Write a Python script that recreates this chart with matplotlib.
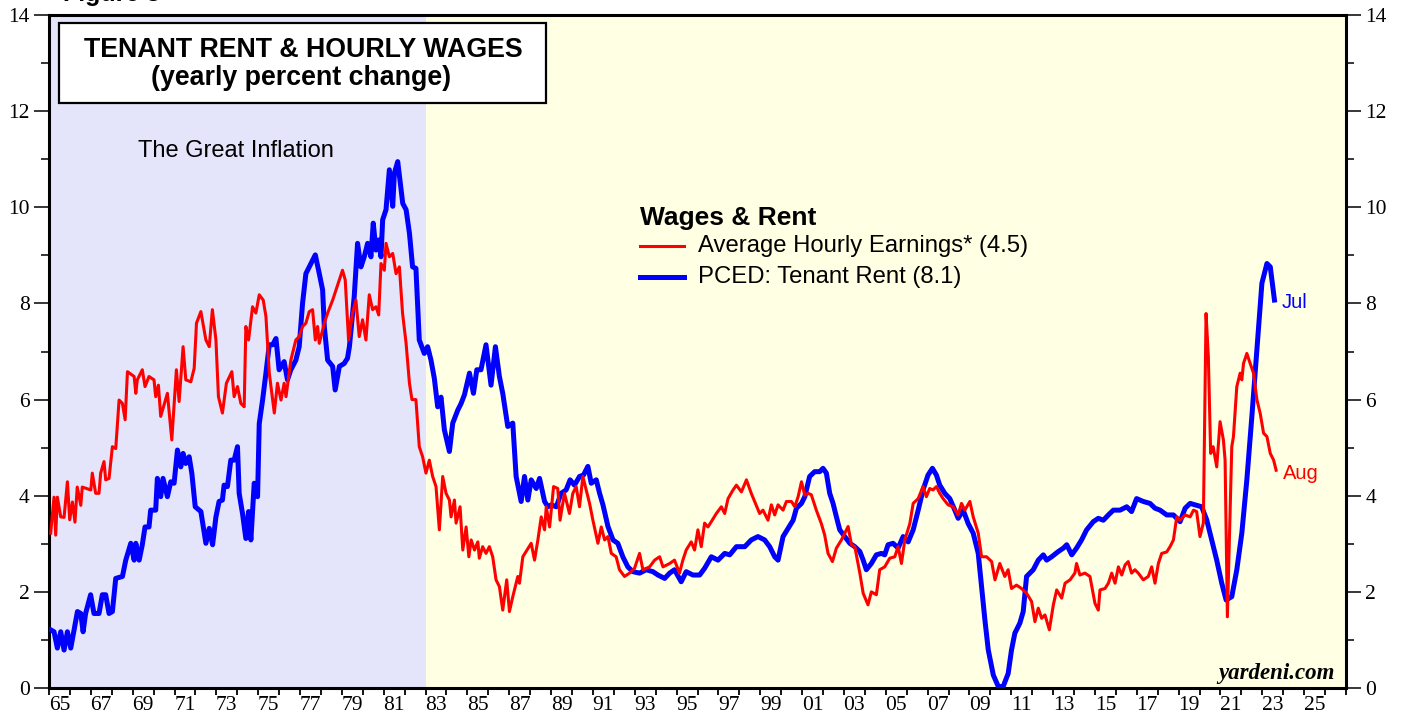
import matplotlib
matplotlib.use("Agg")
import matplotlib.pyplot as plt
from matplotlib.lines import Line2D
from matplotlib.patches import Rectangle
from matplotlib.ticker import FixedLocator, FixedFormatter, MultipleLocator

# Average hourly earnings, yearly % change (red)
wage_years = [
    1965.08, 1965.24, 1965.32, 1965.40, 1965.56, 1965.72, 1965.88, 1965.99, 1966.12, 1966.24,
    1966.35, 1966.52, 1966.59, 1967.00, 1967.07, 1967.23, 1967.39, 1967.47, 1967.63, 1967.71,
    1967.87, 1968.03, 1968.19, 1968.35, 1968.51, 1968.64, 1968.75, 1969.07, 1969.15, 1969.22,
    1969.46, 1969.59, 1969.78, 1970.02, 1970.10, 1970.23, 1970.34, 1970.50, 1970.66, 1970.87,
    1971.09, 1971.22, 1971.41, 1971.54, 1971.78, 1971.94, 1972.05, 1972.26, 1972.50, 1972.66,
    1972.81, 1972.98, 1973.10, 1973.29, 1973.48, 1973.74, 1973.85, 1974.01, 1974.17, 1974.33,
    1974.41, 1974.54, 1974.73, 1974.89, 1975.05, 1975.24, 1975.37, 1975.53, 1975.77, 1975.92,
    1976.09, 1976.24, 1976.33, 1976.56, 1976.80, 1976.96, 1977.12, 1977.28, 1977.44, 1977.60,
    1977.73, 1977.84, 1977.92, 1978.16, 1978.32, 1978.56, 1978.72, 1978.88, 1979.03, 1979.16,
    1979.32, 1979.51, 1979.67, 1979.83, 1979.99, 1980.15, 1980.31, 1980.47, 1980.63, 1980.76,
    1980.87, 1981.03, 1981.11, 1981.27, 1981.43, 1981.59, 1981.75, 1981.90, 1982.07, 1982.23,
    1982.35, 1982.54, 1982.70, 1982.86, 1983.02, 1983.18, 1983.34, 1983.50, 1983.66, 1983.82,
    1983.98, 1984.14, 1984.22, 1984.38, 1984.46, 1984.65, 1984.78, 1984.94, 1985.07, 1985.18,
    1985.34, 1985.50, 1985.57, 1985.73, 1985.89, 1986.05, 1986.21, 1986.37, 1986.53, 1986.69,
    1986.88, 1987.01, 1987.17, 1987.41, 1987.49, 1987.65, 1987.89, 1988.05, 1988.21, 1988.37,
    1988.53, 1988.69, 1988.77, 1988.93, 1989.12, 1989.32, 1989.43, 1989.64, 1989.88, 1990.04,
    1990.20, 1990.36, 1990.52, 1990.68, 1990.84, 1991.00, 1991.24, 1991.40, 1991.56, 1991.72,
    1991.88, 1992.11, 1992.27, 1992.51, 1992.75, 1992.99, 1993.23, 1993.39, 1993.71, 1993.95,
    1994.19, 1994.35, 1994.67, 1994.90, 1995.14, 1995.30, 1995.46, 1995.70, 1995.86, 1996.02,
    1996.18, 1996.34, 1996.50, 1996.66, 1996.90, 1997.14, 1997.30, 1997.46, 1997.70, 1997.86,
    1998.10, 1998.34, 1998.57, 1998.73, 1998.97, 1999.13, 1999.37, 1999.53, 1999.69, 1999.85,
    2000.09, 2000.25, 2000.49, 2000.65, 2000.81, 2000.97, 2001.13, 2001.29, 2001.44, 2001.68,
    2001.92, 2002.08, 2002.24, 2002.45, 2002.64, 2002.88, 2003.04, 2003.20, 2003.36, 2003.52,
    2003.76, 2003.92, 2004.15, 2004.31, 2004.55, 2004.71, 2004.95, 2005.19, 2005.43, 2005.59,
    2005.75, 2005.91, 2006.15, 2006.31, 2006.55, 2006.78, 2006.94, 2007.10, 2007.26, 2007.42,
    2007.58, 2007.74, 2007.98, 2008.22, 2008.46, 2008.62, 2008.78, 2009.02, 2009.18, 2009.42,
    2009.58, 2009.82, 2010.06, 2010.22, 2010.45, 2010.69, 2010.85, 2011.01, 2011.25, 2011.49,
    2011.73, 2011.97, 2012.13, 2012.29, 2012.45, 2012.61, 2012.82, 2013.01, 2013.17, 2013.41,
    2013.57, 2013.81, 2014.04, 2014.12, 2014.28, 2014.52, 2014.76, 2015.00, 2015.16, 2015.24,
    2015.48, 2015.64, 2015.80, 2015.96, 2016.12, 2016.28, 2016.44, 2016.59, 2016.75, 2016.91,
    2017.07, 2017.31, 2017.55, 2017.71, 2017.87, 2018.03, 2018.19, 2018.43, 2018.59, 2018.75,
    2018.91, 2019.07, 2019.31, 2019.55, 2019.71, 2019.86, 2020.02, 2020.18, 2020.31, 2020.42,
    2020.53, 2020.65, 2020.82, 2020.98, 2021.14, 2021.22, 2021.33, 2021.54, 2021.62, 2021.78,
    2021.94, 2022.02, 2022.10, 2022.26, 2022.42, 2022.58, 2022.74, 2022.90, 2023.06, 2023.22,
    2023.38, 2023.54, 2023.66,
]
wage_vals = [
    3.22, 3.97, 3.18, 3.97, 3.56, 3.55, 4.29, 3.50, 3.87, 3.45,
    4.18, 3.80, 4.18, 4.12, 4.47, 4.05, 4.05, 4.47, 4.71, 4.33,
    4.36, 5.02, 4.98, 5.99, 5.92, 5.58, 6.58, 6.48, 6.13, 6.41,
    6.62, 6.27, 6.48, 6.41, 6.06, 6.30, 5.65, 5.89, 6.13, 5.16,
    6.62, 5.96, 7.10, 6.41, 6.37, 6.65, 7.59, 7.83, 7.24, 7.10,
    7.87, 7.24, 6.06, 5.72, 6.34, 6.58, 6.06, 6.27, 5.92, 5.85,
    7.52, 7.24, 7.93, 7.80, 8.18, 8.07, 7.73, 6.55, 5.72, 6.34,
    5.99, 6.34, 6.06, 6.82, 7.24, 7.31, 7.52, 7.59, 7.83, 7.87,
    7.24, 7.52, 7.17, 7.59, 7.80, 8.07, 8.28, 8.49, 8.69, 8.49,
    7.24, 7.80, 8.07, 7.31, 7.66, 7.24, 8.18, 7.87, 7.93, 7.76,
    8.83, 8.69, 9.25, 8.97, 9.04, 8.62, 8.76, 7.80, 7.17, 6.34,
    6.00, 6.00, 5.02, 4.81, 4.47, 4.74, 4.40, 4.19, 3.29, 4.40,
    4.05, 3.91, 3.56, 3.91, 3.43, 3.77, 2.87, 3.35, 2.73, 3.08,
    2.87, 3.04, 2.70, 2.94, 2.80, 2.94, 2.73, 2.25, 2.11, 1.62,
    2.25, 1.59, 1.90, 2.32, 2.18, 2.73, 2.90, 3.01, 2.66, 3.08,
    3.56, 3.29, 3.77, 3.35, 4.19, 4.15, 3.49, 4.05, 3.63, 4.05,
    4.19, 3.77, 4.40, 4.12, 3.84, 3.49, 3.01, 3.35, 3.08, 3.15,
    2.80, 2.73, 2.46, 2.32, 2.39, 2.49, 2.80, 2.46, 2.52, 2.66,
    2.73, 2.52, 2.59, 2.66, 2.39, 2.66, 2.87, 3.04, 2.87, 3.29,
    2.94, 3.43, 3.35, 3.46, 3.63, 3.77, 3.63, 3.94, 4.12, 4.22,
    4.08, 4.33, 4.05, 3.88, 3.63, 3.70, 3.49, 3.81, 3.60, 3.81,
    3.70, 3.88, 3.88, 3.77, 3.98, 4.29, 4.01, 4.05, 4.02, 3.70,
    3.42, 3.18, 2.80, 2.63, 2.91, 3.08, 3.22, 3.36, 2.98, 2.94,
    2.39, 1.97, 1.73, 2.00, 1.94, 2.46, 2.52, 2.70, 2.73, 2.94,
    2.59, 3.08, 3.42, 3.84, 3.94, 4.19, 3.98, 4.15, 4.12, 4.19,
    4.05, 3.94, 3.81, 3.77, 3.60, 3.84, 3.70, 3.88, 3.56, 3.22,
    2.73, 2.73, 2.63, 2.25, 2.59, 2.32, 2.46, 2.07, 2.14, 2.07,
    1.97, 1.80, 1.38, 1.66, 1.45, 1.52, 1.21, 1.73, 2.04, 1.87,
    2.18, 2.25, 2.39, 2.59, 2.35, 2.39, 2.32, 1.76, 1.62, 2.04,
    2.07, 2.18, 2.39, 2.18, 2.52, 2.35, 2.56, 2.63, 2.39, 2.46,
    2.39, 2.25, 2.32, 2.52, 2.18, 2.59, 2.80, 2.83, 2.94, 3.08,
    3.56, 3.49, 3.60, 3.56, 3.70, 3.67, 3.15, 3.43, 7.79, 6.89,
    4.88, 5.02, 4.60, 5.54, 5.16, 4.74, 1.48, 5.02, 5.23, 6.27,
    6.55, 6.41, 6.75, 6.96, 6.75, 6.55, 6.00, 5.71, 5.30, 5.23,
    4.88, 4.74, 4.53,
]

# PCED: tenant rent, yearly % change (blue)
rent_years = [
    1965.08, 1965.24, 1965.40, 1965.56, 1965.72, 1965.88, 1966.04, 1966.20, 1966.36, 1966.52,
    1966.63, 1966.75, 1966.99, 1967.15, 1967.39, 1967.55, 1967.71, 1967.87, 1968.03, 1968.19,
    1968.51, 1968.67, 1968.91, 1969.07, 1969.15, 1969.31, 1969.46, 1969.59, 1969.78, 1969.86,
    1970.10, 1970.18, 1970.34, 1970.45, 1970.66, 1970.82, 1970.98, 1971.14, 1971.30, 1971.41,
    1971.54, 1971.70, 1971.83, 1971.99, 1972.26, 1972.50, 1972.66, 1972.82, 1972.98, 1973.13,
    1973.29, 1973.37, 1973.53, 1973.69, 1973.85, 1974.01, 1974.09, 1974.25, 1974.41, 1974.54,
    1974.65, 1974.81, 1974.97, 1975.05, 1975.21, 1975.37, 1975.53, 1975.69, 1975.85, 1976.00,
    1976.24, 1976.40, 1976.56, 1976.80, 1976.96, 1977.12, 1977.28, 1977.52, 1977.73, 1977.92,
    1978.08, 1978.16, 1978.32, 1978.56, 1978.68, 1978.88, 1979.11, 1979.27, 1979.36, 1979.59,
    1979.75, 1979.91, 1980.07, 1980.23, 1980.39, 1980.50, 1980.63, 1980.76, 1980.87, 1980.95,
    1981.11, 1981.27, 1981.43, 1981.51, 1981.67, 1981.83, 1981.91, 1982.07, 1982.23, 1982.38,
    1982.54, 1982.70, 1982.94, 1983.10, 1983.26, 1983.42, 1983.58, 1983.74, 1983.90, 1984.14,
    1984.30, 1984.54, 1984.70, 1984.86, 1985.10, 1985.29, 1985.45, 1985.65, 1985.89, 1986.13,
    1986.34, 1986.53, 1986.69, 1986.93, 1987.17, 1987.33, 1987.57, 1987.73, 1987.89, 1988.05,
    1988.29, 1988.45, 1988.69, 1988.85, 1989.01, 1989.25, 1989.48, 1989.72, 1989.91, 1990.12,
    1990.36, 1990.55, 1990.76, 1990.92, 1991.16, 1991.32, 1991.48, 1991.72, 1991.96, 1992.19,
    1992.43, 1992.67, 1992.91, 1993.23, 1993.55, 1993.87, 1994.11, 1994.43, 1994.67, 1994.90,
    1995.22, 1995.46, 1995.78, 1996.10, 1996.34, 1996.66, 1996.98, 1997.30, 1997.54, 1997.86,
    1998.26, 1998.57, 1998.89, 1999.21, 1999.45, 1999.69, 1999.85, 2000.09, 2000.33, 2000.57,
    2000.73, 2000.97, 2001.13, 2001.36, 2001.60, 2001.84, 2002.00, 2002.16, 2002.32, 2002.48,
    2002.64, 2002.80, 2003.04, 2003.28, 2003.52, 2003.76, 2003.92, 2004.07, 2004.31, 2004.55,
    2004.79, 2004.95, 2005.11, 2005.35, 2005.59, 2005.83, 2006.07, 2006.31, 2006.55, 2006.78,
    2007.02, 2007.23, 2007.42, 2007.58, 2007.82, 2008.06, 2008.30, 2008.46, 2008.70, 2008.94,
    2009.18, 2009.42, 2009.58, 2009.74, 2009.90, 2010.14, 2010.38, 2010.61, 2010.85, 2011.01,
    2011.17, 2011.41, 2011.57, 2011.73, 2012.05, 2012.29, 2012.53, 2012.69, 2012.93, 2013.25,
    2013.49, 2013.65, 2013.89, 2014.12, 2014.36, 2014.60, 2014.92, 2015.16, 2015.40, 2015.64,
    2015.88, 2016.20, 2016.52, 2016.75, 2016.99, 2017.31, 2017.63, 2017.87, 2018.11, 2018.43,
    2018.75, 2019.07, 2019.31, 2019.55, 2019.79, 2020.10, 2020.34, 2020.58, 2020.82, 2021.06,
    2021.27, 2021.54, 2021.78, 2022.02, 2022.26, 2022.50, 2022.74, 2022.98, 2023.22, 2023.38,
    2023.50, 2023.58,
]
rent_vals = [
    1.21, 1.17, 0.83, 1.17, 0.79, 1.17, 0.83, 1.21, 1.59, 1.55,
    1.17, 1.55, 1.94, 1.55, 1.55, 1.94, 1.94, 1.55, 1.59, 2.28,
    2.32, 2.66, 3.01, 2.66, 3.01, 2.66, 2.98, 3.35, 3.35, 3.70,
    3.70, 4.36, 3.98, 4.36, 3.98, 4.29, 4.26, 4.95, 4.60, 4.88,
    4.67, 4.81, 4.46, 3.77, 3.67, 3.01, 3.32, 2.98, 3.56, 3.88,
    3.91, 4.22, 4.19, 4.74, 4.74, 5.02, 4.05, 3.63, 3.11, 3.67,
    3.08, 4.26, 3.98, 5.50, 5.99, 6.55, 7.14, 7.14, 7.27, 6.62,
    6.79, 6.41, 6.62, 6.82, 7.10, 8.00, 8.62, 8.83, 9.01, 8.62,
    8.28, 7.52, 6.82, 6.69, 6.20, 6.69, 6.75, 6.86, 7.10, 8.14,
    9.25, 8.76, 8.97, 9.25, 8.97, 9.67, 9.11, 9.32, 8.97, 9.74,
    9.95, 10.78, 10.02, 10.71, 10.95, 10.36, 10.08, 9.95, 9.46, 8.76,
    8.73, 7.24, 6.96, 7.10, 6.82, 6.44, 5.85, 6.05, 5.37, 4.92,
    5.51, 5.78, 5.92, 6.10, 6.55, 6.13, 6.62, 6.62, 7.14, 6.30,
    7.10, 6.48, 6.13, 5.44, 5.51, 4.40, 3.88, 4.40, 3.91, 4.33,
    4.15, 4.36, 3.88, 3.77, 3.81, 3.77, 4.05, 4.12, 4.33, 4.22,
    4.40, 4.43, 4.61, 4.26, 4.33, 4.05, 3.81, 3.36, 3.08, 3.01,
    2.73, 2.52, 2.42, 2.39, 2.46, 2.42, 2.35, 2.28, 2.39, 2.46,
    2.21, 2.42, 2.35, 2.35, 2.49, 2.73, 2.66, 2.80, 2.77, 2.94,
    2.94, 3.08, 3.15, 3.08, 2.94, 2.73, 2.66, 3.15, 3.32, 3.49,
    3.74, 3.84, 3.98, 4.40, 4.50, 4.50, 4.57, 4.47, 4.05, 3.84,
    3.56, 3.29, 3.15, 3.01, 2.94, 2.84, 2.66, 2.46, 2.59, 2.77,
    2.80, 2.77, 2.98, 3.01, 2.91, 3.15, 3.04, 3.29, 3.70, 4.12,
    4.43, 4.57, 4.43, 4.22, 4.05, 3.94, 3.70, 3.53, 3.70, 3.42,
    3.22, 2.80, 2.11, 1.41, 0.79, 0.27, 0.03, 0.03, 0.30, 0.79,
    1.14, 1.35, 1.59, 2.32, 2.46, 2.66, 2.77, 2.66, 2.73, 2.84,
    2.91, 2.98, 2.77, 2.91, 3.08, 3.29, 3.46, 3.53, 3.49, 3.60,
    3.70, 3.70, 3.77, 3.67, 3.94, 3.88, 3.84, 3.74, 3.70, 3.60,
    3.60, 3.46, 3.74, 3.84, 3.81, 3.77, 3.50, 3.08, 2.66, 2.18,
    1.83, 1.90, 2.46, 3.22, 4.33, 5.65, 7.03, 8.42, 8.83, 8.76,
    8.35, 8.07,
]

year_edges = list(range(1965, 2028))
label_pos = [1965.5, 1967.5, 1969.5, 1971.5, 1973.5, 1975.5, 1977.5, 1979.5, 1981.5, 1983.5,
             1985.5, 1987.5, 1989.5, 1991.5, 1993.5, 1995.5, 1997.5, 1999.5, 2001.5, 2003.5,
             2005.5, 2007.5, 2009.5, 2011.5, 2013.5, 2015.5, 2017.5, 2019.5, 2021.5, 2023.5,
             2025.5]
label_txt = ["65", "67", "69", "71", "73", "75", "77", "79", "81", "83",
             "85", "87", "89", "91", "93", "95", "97", "99", "01", "03",
             "05", "07", "09", "11", "13", "15", "17", "19", "21", "23",
             "25"]

W, H = 1405, 719
SANS = "Liberation Sans"
SERIF = "Liberation Serif"


def fx(x):
    return x / W


def fy(y):
    return 1 - y / H


fig = plt.figure(figsize=(W / 100, H / 100), dpi=100)
ax = fig.add_axes([fx(49), fy(688), (1346 - 49) / W, (688 - 15) / H])

ax.set_facecolor("#FFFFE3")
ax.axvspan(1965, 1983, color="#E4E4FB", lw=0, zorder=0)

ax.plot(rent_years, rent_vals, color="#0000FF", lw=3.6, solid_joinstyle="round", zorder=3)
ax.plot(wage_years, wage_vals, color="#FF0000", lw=2.2, solid_joinstyle="round", zorder=4)

ax.set_xlim(1965, 2027)
ax.set_ylim(0, 14)

for s in ax.spines.values():
    s.set_linewidth(2.2)

# x axis: ticks at every year boundary, labels at middle of odd years
ax.xaxis.set_major_locator(FixedLocator(year_edges))
ax.xaxis.set_major_formatter(FixedFormatter([""] * len(year_edges)))
ax.xaxis.set_minor_locator(FixedLocator(label_pos))
ax.xaxis.set_minor_formatter(FixedFormatter(label_txt))
ax.tick_params(axis="x", which="major", direction="out", length=5, width=1.3)
ax.tick_params(axis="x", which="minor", length=0, pad=6, labelsize=15.5)

ax.yaxis.set_major_locator(MultipleLocator(2))
ax.yaxis.set_minor_locator(MultipleLocator(1))
ax.tick_params(axis="y", which="both", direction="out", left=True, right=True,
               labelleft=True, labelright=True, width=1.1)
ax.tick_params(axis="y", which="major", length=11, pad=3, labelsize=15.5)
ax.tick_params(axis="y", which="minor", length=6)

for lab in ax.get_xticklabels(minor=True) + ax.get_yticklabels():
    lab.set_fontfamily(SERIF)
for lab in ax.yaxis.get_ticklabels(which="major"):
    lab.set_fontfamily(SERIF)

# title box
fig.add_artist(Rectangle((fx(59), fy(103)), (546 - 59) / W, 80 / H, transform=fig.transFigure,
                         facecolor="white", edgecolor="black", lw=1.6, zorder=5))
fig.text(fx(303), fy(50), "TENANT RENT & HOURLY WAGES", ha="center", va="center",
         fontsize=19.3, fontweight="bold", family=SANS, zorder=6)
fig.text(fx(301), fy(78), "(yearly percent change)", ha="center", va="center",
         fontsize=19.3, fontweight="bold", family=SANS, zorder=6)
# figure caption, cut off by the top edge as in the source image
fig.text(fx(160), fy(1), "Figure 3", ha="right", va="baseline",
         fontsize=18, fontweight="bold", family=SANS)

fig.text(fx(236), fy(151), "The Great Inflation", ha="center", va="center",
         fontsize=17, family=SANS)

# legend
fig.text(fx(640), fy(218), "Wages & Rent", ha="left", va="center",
         fontsize=19, fontweight="bold", family=SANS)
fig.add_artist(Line2D([fx(640), fx(684)], [fy(246), fy(246)], color="#FF0000", lw=2.2))
fig.add_artist(Line2D([fx(640), fx(684)], [fy(277), fy(277)], color="#0000FF", lw=3.6))
fig.text(fx(698), fy(246), "Average Hourly Earnings* (4.5)", ha="left", va="center",
         fontsize=17.2, family=SANS)
fig.text(fx(698), fy(277), "PCED: Tenant Rent (8.1)", ha="left", va="center",
         fontsize=17.2, family=SANS)

ax.annotate("Jul", (rent_years[-1], rent_vals[-1]), xytext=(5, -2), textcoords="offset points",
            ha="left", va="center", color="#0000FF", fontsize=14.5, family=SANS)
ax.annotate("Aug", (wage_years[-1], wage_vals[-1]), xytext=(5, -2), textcoords="offset points",
            ha="left", va="center", color="#FF0000", fontsize=14.5, family=SANS)

fig.text(fx(1335), fy(673), "yardeni.com", ha="right", va="center",
         fontsize=16.5, fontweight="bold", style="italic", family=SERIF)

fig.savefig("out.png", dpi=100)
